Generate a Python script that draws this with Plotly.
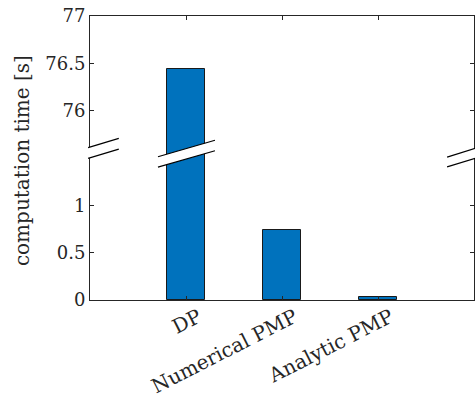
import plotly.graph_objects as go

# ---- data ----
categories = ["DP", "Numerical PMP", "Analytic PMP"]
times_s = [76.44, 0.74, 0.035]
ytick_values = [0, 0.5, 1, 76, 76.5, 77]
ytick_labels = ["0", "0.5", "1", "76", "76.5", "77"]

# broken axis: values above the break are shifted down by OFFSET
BREAK_AT = 1.6
OFFSET = 74.0
Y_MAX = 3.0


def tr(v):
    return v if v < BREAK_AT else v - OFFSET


x_pos = [i + 1 for i in range(len(categories))]
X_MAX = len(categories) + 1
LABEL_SHIFT = 0.13  # rotated labels sit slightly right of their tick (MATLAB style)

AX = "#262626"
FONT = "DejaVu Serif"

fig = go.Figure()
fig.add_trace(go.Bar(
    x=x_pos, y=[tr(v) for v in times_s], width=0.4,
    marker=dict(color="#0072BD", line=dict(color="#1a1a1a", width=1)),
    showlegend=False,
))
fig.add_trace(go.Scatter(x=[], y=[], xaxis="x2", showlegend=False, hoverinfo="skip"))


def px(xd):
    return xd / X_MAX


def py(t):
    return t / Y_MAX


def slash(x0, x1, c0, c1, half):
    # white parallelogram + two slanted lines (break marks)
    pts = [(x0, c0 + half), (x1, c1 + half), (x1, c1 - half), (x0, c0 - half)]
    path = "M " + " L ".join(f"{px(a)},{py(b)}" for a, b in pts) + " Z"
    fig.add_shape(type="path", path=path, xref="paper", yref="paper",
                  fillcolor="white", line=dict(width=0), layer="above")
    for s in (1, -1):
        fig.add_shape(type="line", xref="paper", yref="paper",
                      x0=px(x0), y0=py(c0 + s * half), x1=px(x1), y1=py(c1 + s * half),
                      line=dict(color="black", width=1.2), layer="above")


slash(-0.02, 0.30, 1.553, 1.650, 0.057)
slash(0.708, 1.302, 1.458, 1.632, 0.055)
slash(3.72, 4.02, 1.458, 1.552, 0.052)

fig.update_layout(
    width=475, height=401,
    margin=dict(l=90, r=1, t=16, b=101),
    plot_bgcolor="white", paper_bgcolor="white",
    font=dict(family=FONT, size=18, color=AX),
    bargap=0,
    xaxis=dict(
        range=[0, X_MAX], tickvals=x_pos, showticklabels=False,
        ticks="inside", ticklen=4, tickcolor=AX,
        showline=True, linecolor=AX, linewidth=1, mirror="ticks",
        showgrid=False, zeroline=False,
    ),
    xaxis2=dict(
        overlaying="x", anchor="y", side="bottom",
        range=[-LABEL_SHIFT, X_MAX - LABEL_SHIFT], tickvals=x_pos, ticktext=categories,
        tickangle=-27, ticks="", showline=False, showgrid=False, zeroline=False,
        ticklabelstandoff=1,
        tickfont=dict(family=FONT, size=20, color=AX),
    ),
    yaxis=dict(
        range=[0, Y_MAX], tickvals=[tr(v) for v in ytick_values], ticktext=ytick_labels,
        ticks="inside", ticklen=4, tickcolor=AX,
        showline=True, linecolor=AX, linewidth=1, mirror="ticks",
        showgrid=False, zeroline=False,
        tickfont=dict(family=FONT, size=18, color=AX),
    ),
)

fig.add_annotation(
    text="computation time [s]", xref="paper", yref="paper",
    x=0, y=0.489, xshift=-68, xanchor="center", yanchor="middle",
    textangle=-90, showarrow=False,
    font=dict(family=FONT, size=20, color=AX),
)

fig.write_html("out.html")
